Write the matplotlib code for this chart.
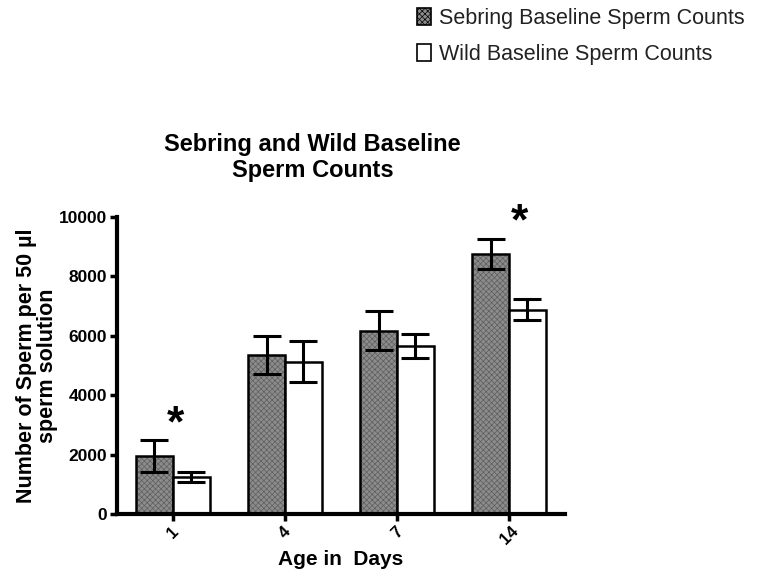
import numpy as np
import matplotlib
matplotlib.use('Agg')
import matplotlib.pyplot as plt

matplotlib.rcParams['font.family'] = 'Liberation Sans'
matplotlib.rcParams['hatch.linewidth'] = 0.5

days = ['1', '4', '7', '14']
sebring_mean = [1960, 5350, 6170, 8750]
sebring_err = [530, 640, 660, 510]
wild_mean = [1260, 5130, 5650, 6880]
wild_err = [170, 680, 410, 350]
star_groups = [0, 3]
star_values = [3000, 9800]

fig = plt.figure(figsize=(7.62, 5.79), dpi=100)
ax = fig.add_axes([0.1535, 0.1123, 0.588, 0.513])

x = np.arange(len(days))
w = 0.33
lw = 2.2
# dotted grey fill, then black outline on top
ax.bar(x - w/2, sebring_mean, width=w, color='#8c8c8c', edgecolor='#5e5e5e', hatch='xxxxxx',
       linewidth=0, zorder=2)
ax.bar(x - w/2, sebring_mean, width=w, fill=False, edgecolor='black', linewidth=1.8, zorder=2)
ax.bar(x + w/2, wild_mean, width=w, color='white', edgecolor='black',
       linewidth=1.8, zorder=2)
ax.errorbar(x - w/2, sebring_mean, yerr=sebring_err, fmt='none', ecolor='black',
            elinewidth=lw, capsize=10, capthick=lw, zorder=3)
ax.errorbar(x + w/2, wild_mean, yerr=wild_err, fmt='none', ecolor='black',
            elinewidth=lw, capsize=10, capthick=lw, zorder=3)

for g, v in zip(star_groups, star_values):
    off = 0.02 if g == 0 else 0.09
    ax.text(g + off, v, '*', ha='center', va='center', fontsize=32, fontweight='bold')

ax.set_xlim(-0.5, 3.5)
ax.set_ylim(0, 10000)
ax.set_yticks([0, 2000, 4000, 6000, 8000, 10000])
ax.set_xticks(x)
ax.set_xticklabels(days, rotation=45, ha='center', fontweight='bold', fontsize=12)
for lab in ax.get_yticklabels():
    lab.set_fontweight('bold')
    lab.set_fontsize(12.5)

for s in ['top', 'right']:
    ax.spines[s].set_visible(False)
for s in ['left', 'bottom']:
    ax.spines[s].set_linewidth(3)
ax.tick_params(axis='both', width=2.5, length=5, pad=2)

ax.set_ylabel('Number of Sperm per 50 \u00b5l\nsperm solution', fontsize=15.5,
              fontweight='bold', labelpad=1, linespacing=0.95)
ax.set_xlabel('Age in  Days', fontsize=15, fontweight='bold', labelpad=2)
fig.text(0.41, 0.728, 'Sebring and Wild Baseline\nSperm Counts', ha='center', va='center',
         fontsize=17, fontweight='bold', linespacing=1.2)

# legend built from proxy patches
h1 = plt.Rectangle((0, 0), 1, 1, facecolor='#8c8c8c', edgecolor='black', hatch='xxxxxx', linewidth=1.2)
h2 = plt.Rectangle((0, 0), 1, 1, facecolor='white', edgecolor='black', linewidth=1.2)
leg = fig.legend([h1, h2], ['Sebring Baseline Sperm Counts', 'Wild Baseline Sperm Counts'],
                 loc='upper left', bbox_to_anchor=(0.522, 1.02), frameon=False,
                 fontsize=15.5, handlelength=0.65, handleheight=0.85, handletextpad=0.35,
                 labelspacing=0.7)
for t in leg.get_texts():
    t.set_color('#222222')

fig.savefig('out.png', dpi=100)
